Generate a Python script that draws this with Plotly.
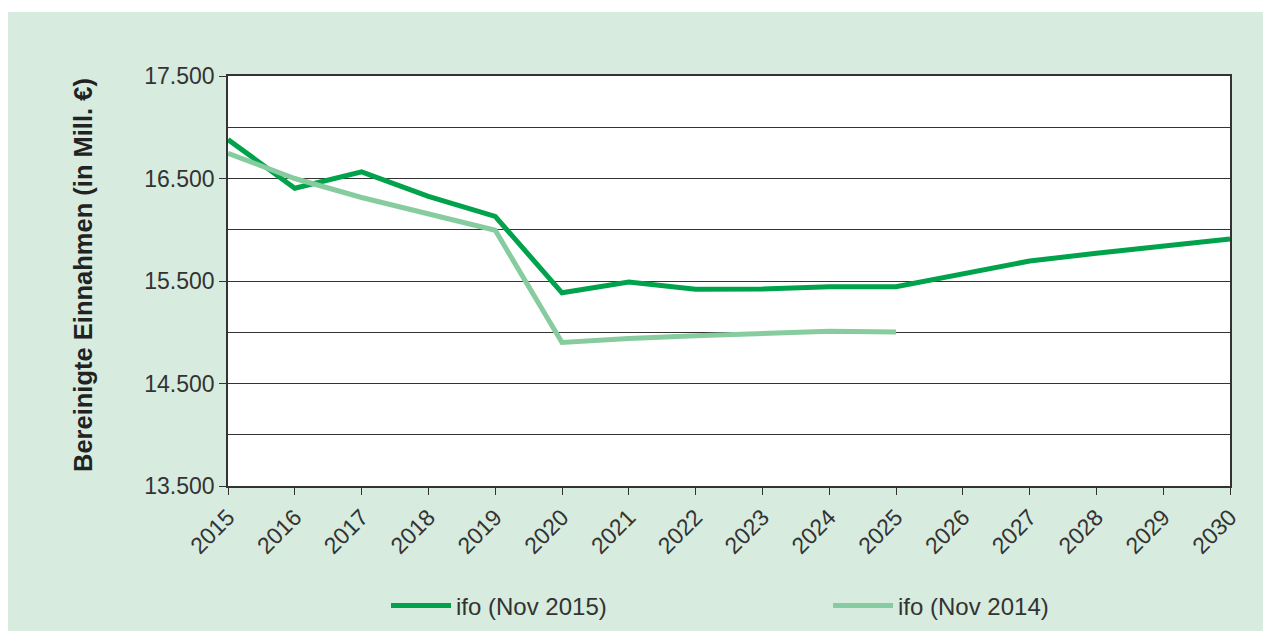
import plotly.graph_objects as go

years = list(range(2015, 2031))
ifo_nov2015 = [16880, 16405, 16565, 16325, 16130, 15385, 15490, 15420, 15422, 15445, 15445,
               15575, 15695, 15770, 15835, 15910]
years_2014 = list(range(2015, 2026))
ifo_nov2014 = [16745, 16500, 16315, 16160, 15995, 14900, 14940, 14965, 14982, 15010, 15002]

y_title = "Bereinigte Einnahmen (in Mill. €)"
names = ["ifo (Nov 2015)", "ifo (Nov 2014)"]

# the page places the figure 8px from the top-left corner
OFF = 8
W, H = 1271 - OFF, 631 - OFF
L, T = 228 - OFF, 76 - OFF
R, B = W - (1230 - OFF), H - (486 - OFF)
pw, ph = W - L - R, H - T - B

BG = "#d7ebde"
FONT = "Liberation Sans, Arial, sans-serif"
TXT = "#333333"

fig = go.Figure()
fig.add_trace(go.Scatter(x=years, y=ifo_nov2015, mode="lines", name=names[0],
                         line=dict(color="#00a34c", width=5)))
fig.add_trace(go.Scatter(x=years_2014, y=ifo_nov2014, mode="lines", name=names[1],
                         line=dict(color="#86cc9e", width=5)))

def px_x(p):
    # p in screen pixels of the reference
    return (p - OFF - L) / pw

def px_y(p):
    return (H - B - (p - OFF)) / ph

fig.update_layout(
    width=W, height=H,
    margin=dict(l=L, r=R, t=T, b=B, pad=0, autoexpand=False),
    paper_bgcolor=BG, plot_bgcolor="white",
    separators=",.",
    font=dict(family=FONT, color=TXT, size=23),
    showlegend=True,
    legend=dict(orientation="h", xanchor="left", yanchor="middle",
                x=px_x(386), y=px_y(606), entrywidth=437 - 70, entrywidthmode="pixels",
                font=dict(size=24, color=TXT), bgcolor="rgba(0,0,0,0)", itemwidth=60),
    xaxis=dict(range=[2015, 2030], tickmode="linear", tick0=2015, dtick=1,
               showgrid=False, zeroline=False, showline=True, linecolor="#333333",
               linewidth=1.5, mirror=True, ticks="outside", ticklen=7, tickcolor="#333333",
               tickangle=-45, tickfont=dict(size=23, color=TXT), automargin=False),
    yaxis=dict(range=[13500, 17500], tickmode="linear", tick0=13500, dtick=1000,
               tickformat=",d", showgrid=True, gridcolor="#333333", gridwidth=1,
               zeroline=False, showline=True, linecolor="#333333", linewidth=1.5,
               mirror=True, ticks="outside", ticklen=7, tickcolor="#333333",
               tickfont=dict(size=23, color=TXT), automargin=False,
               minor=dict(dtick=500, tick0=13500, showgrid=True, gridcolor="#333333",
                          gridwidth=1, ticks="")),
    shapes=[
        dict(type="rect", xref="paper", yref="paper", x0=px_x(-20), x1=px_x(1300),
             y0=px_y(12), y1=px_y(-20), fillcolor="white", line=dict(width=0), layer="above"),
    ],
    annotations=[
        dict(text=y_title, xref="paper", yref="paper", x=px_x(83), y=px_y(275),
             xanchor="center", yanchor="middle", textangle=-90, showarrow=False,
             font=dict(size=25.5, color="#222222", family=FONT, weight="bold")),
    ],
)

fig.write_html("out.html")
